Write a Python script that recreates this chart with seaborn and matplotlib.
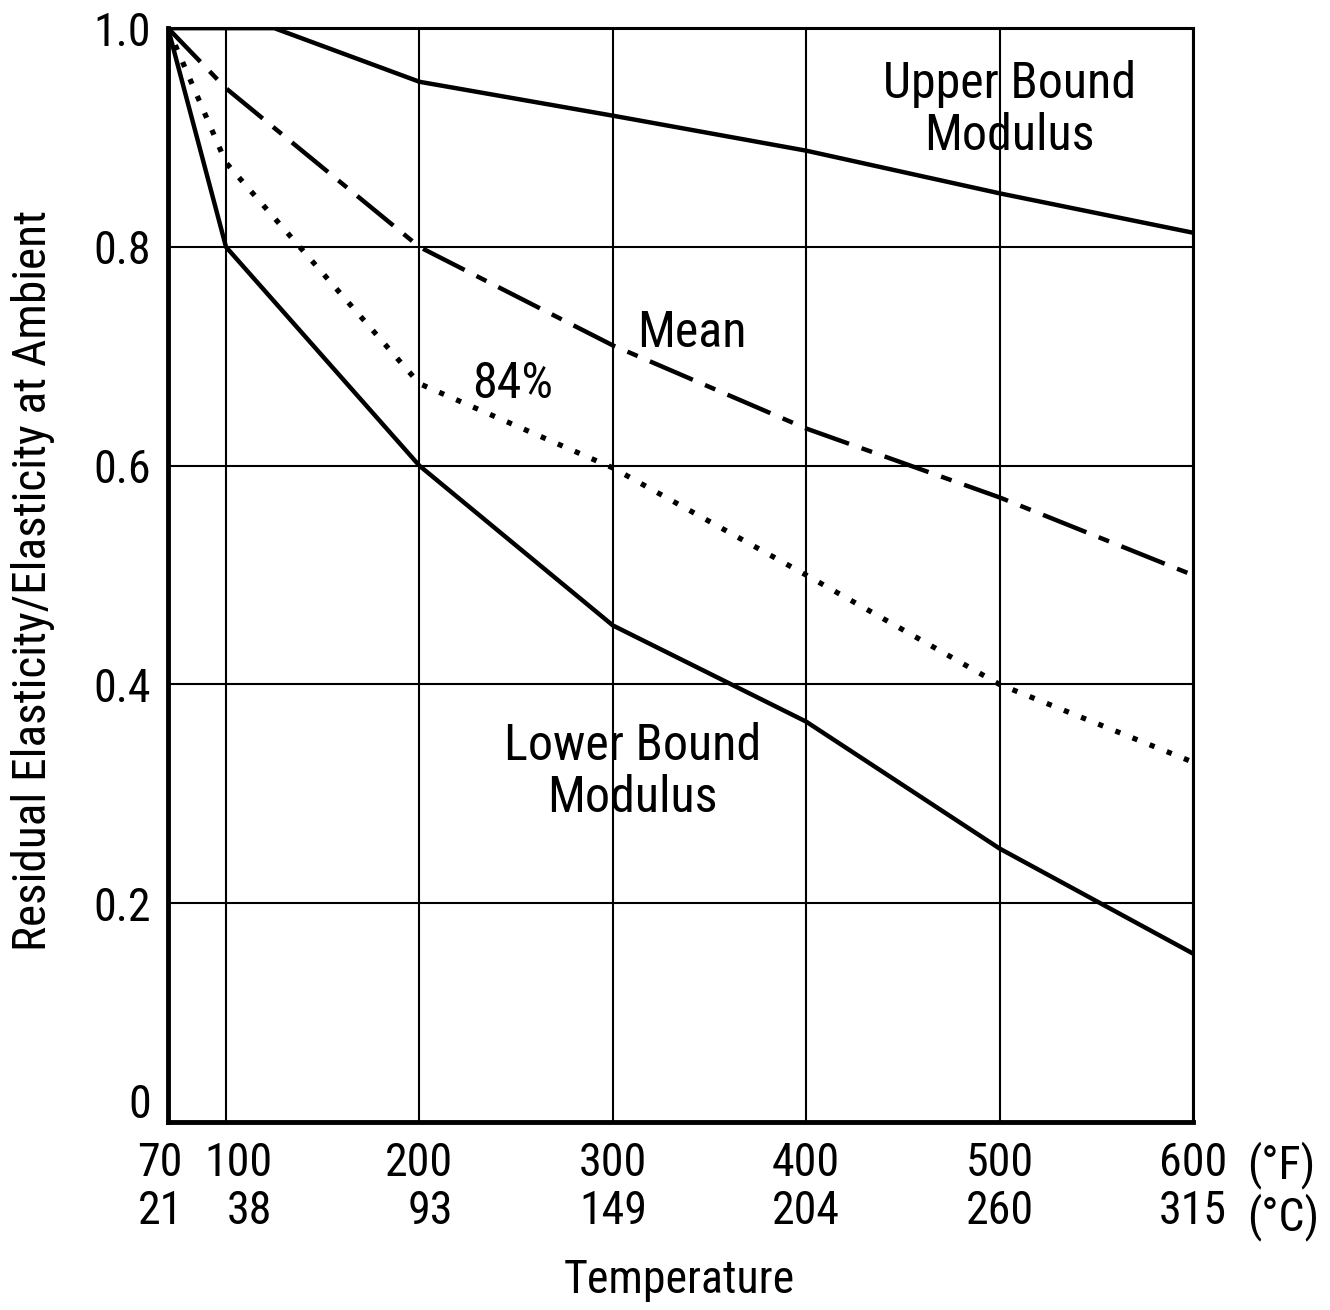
import matplotlib
matplotlib.use("Agg")
import matplotlib.pyplot as plt
import matplotlib.transforms as mtransforms
import seaborn as sns
import pandas as pd

# temperatures (deg F) and their Celsius equivalents for the tick labels
temp_f = [70, 100, 200, 300, 400, 500, 600]
temp_c = ["21", "38", "93", "149", "204", "260", "315"]

# residual modulus ratio
upper_x = [70, 125, 200, 300, 400, 500, 600]
upper_y = [1.0, 1.0, 0.951, 0.92, 0.888, 0.849, 0.813]
mean_y = [1.0, 0.945, 0.80, 0.71, 0.634, 0.571, 0.50]
p84_y = [1.0, 0.877, 0.675, 0.598, 0.50, 0.40, 0.329]
lower_y = [1.0, 0.80, 0.60, 0.454, 0.366, 0.25, 0.154]

y_ticks = [0, 0.2, 0.4, 0.6, 0.8, 1.0]
y_labels = ["0", "0.2", "0.4", "0.6", "0.8", "1.0"]

sns.set_style("white")
plt.rcParams["font.family"] = ["Liberation Sans Narrow", "Roboto Condensed",
                               "Liberation Sans", "DejaVu Sans"]
plt.rcParams["text.color"] = "black"

fig = plt.figure(figsize=(13.3, 13.1), dpi=100)
ax = fig.add_axes([0.1263, 0.1435, 0.7707, 0.835])

df = pd.DataFrame({"T": temp_f, "mean": mean_y, "p84": p84_y, "lower": lower_y})
up = pd.DataFrame({"T": upper_x, "upper": upper_y})

sns.lineplot(data=up, x="T", y="upper", ax=ax, color="black", lw=3.2)
sns.lineplot(data=df, x="T", y="lower", ax=ax, color="black", lw=3.2)
sns.lineplot(data=df, x="T", y="mean", ax=ax, color="black", lw=3.2,
             linestyle=(0, (10.5, 3, 2.5, 3)))
sns.lineplot(data=df, x="T", y="p84", ax=ax, color="black", lw=3.8,
             linestyle=(0, (1, 2.5)))

ax.set_xlim(70, 600)
ax.set_ylim(0, 1.0)
ax.set_xticks(temp_f)
ax.set_xticklabels([f"{f}\n{c}" for f, c in zip(temp_f, temp_c)],
                   multialignment="right", linespacing=1.1)
ax.set_yticks(y_ticks)
ax.set_yticklabels(y_labels)
ax.tick_params(axis="both", length=0, labelsize=33, colors="black")
ax.tick_params(axis="x", pad=14)
ax.tick_params(axis="y", pad=12)
ax.grid(True, color="black", lw=1.5)
ax.set_axisbelow(True)
for side in ["left", "bottom"]:
    ax.spines[side].set_linewidth(3.5)
for side in ["top", "right"]:
    ax.spines[side].set_linewidth(2.2)
for s in ax.spines.values():
    s.set_color("black")
    s.set_visible(True)

# a few labels sit a little off their gridlines in the original
xlabs = ax.get_xticklabels()
for lab, dx in [(xlabs[0], -8), (xlabs[1], 12)]:
    lab.set_transform(lab.get_transform() +
                      mtransforms.ScaledTranslation(dx / 100, 0, fig.dpi_scale_trans))
ylab0 = ax.get_yticklabels()[0]
ylab0.set_transform(ylab0.get_transform() +
                    mtransforms.ScaledTranslation(0, 22 / 100, fig.dpi_scale_trans))

ax.set_xlabel("")
ax.set_ylabel("")

# units after the last tick label
ax.annotate("(°F)\n(°C)", xy=(600, 0), xycoords=("data", "axes fraction"),
            xytext=(39, -14), textcoords="offset points", ha="left", va="top",
            fontsize=33, linespacing=1.1)

fig.text(0.511, 0.023, "Temperature", ha="center", va="center", fontsize=33)
fig.text(0.025, 0.557, "Residual Elasticity/Elasticity at Ambient",
         ha="center", va="center", rotation=90, fontsize=34)

ax.text(505, 0.925, "Upper Bound\nModulus", ha="center", va="center",
        fontsize=36, linespacing=1.1)
ax.text(341, 0.721, "Mean", ha="center", va="center", fontsize=36)
ax.text(248, 0.675, "84%", ha="center", va="center", fontsize=36)
ax.text(310, 0.32, "Lower Bound\nModulus", ha="center", va="center",
        fontsize=36, linespacing=1.1)

fig.savefig("out.png", dpi=100, facecolor="white")
